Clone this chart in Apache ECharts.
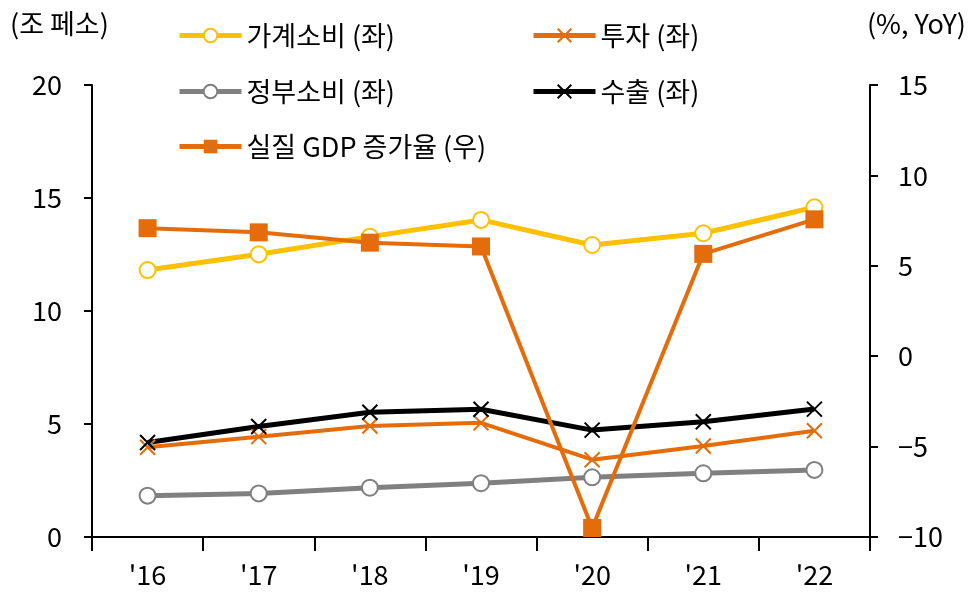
<!DOCTYPE html>
<html><head><meta charset="utf-8">
<script src="https://cdn.jsdelivr.net/npm/echarts@6/dist/echarts.min.js"></script>
<style>html,body{margin:0;padding:0;background:#fff}#c{width:973px;height:606px}</style>
</head><body><div id="c"></div>
<script>
const categories = ["'16","'17","'18","'19","'20","'21","'22"];
const household = [11.81, 12.51, 13.29, 14.03, 12.92, 13.44, 14.59];
const investment = [3.97, 4.44, 4.91, 5.05, 3.42, 4.03, 4.70];
const government = [1.83, 1.93, 2.18, 2.38, 2.64, 2.82, 2.97];
const exportsV = [4.18, 4.89, 5.52, 5.65, 4.73, 5.10, 5.66];
const gdp = [7.08, 6.85, 6.28, 6.07, -9.5, 5.66, 7.57];
const names = ['가계소비 (좌)','투자 (좌)','정부소비 (좌)','수출 (좌)','실질 GDP 증가율 (우)'];

const FONT = '"Noto Sans CJK KR", "Noto Sans", sans-serif';
const YEL = '#FFC000', ORG = '#E46C0A', GRY = '#808080', BLK = '#000000';
const X = 'path://M0,0L10,10M10,0L0,10';
const txt = {fontFamily: FONT, fontSize: 27, color: '#000'};

function leg(name, left, top, color, w){
  return {data:[name], left:left, top:top, padding:0, itemWidth:62, itemHeight:17, itemGap:0,
          lineStyle:{color:color, width:w},
          textStyle:{fontFamily:FONT, fontSize:27, color:'#000', padding:[0,0,0,0]}, selectedMode:false};
}

const chart = echarts.init(document.getElementById('c'));
chart.setOption({
  animation:false,
  backgroundColor:'#fff',
  grid:{left:92, right:103, top:85, bottom:69},
  legend:[
    leg(names[0],177,22,YEL,5), leg(names[1],531,22,ORG,5),
    leg(names[2],177,78,GRY,5), leg(names[3],531,78,BLK,5),
    leg(names[4],177,133,ORG,5)
  ],
  graphic:[
    {type:'text', left:10, top:10, style:{text:'(조 페소)', font:'27px '+FONT, fill:'#000'}},
    {type:'text', right:7, top:10, style:{text:'(%, YoY)', font:'27px '+FONT, fill:'#000'}}
  ],
  xAxis:{type:'category', data:categories, boundaryGap:true,
    axisLine:{lineStyle:{color:'#000', width:2}},
    axisTick:{show:true, interval:0, length:14, lineStyle:{color:'#000', width:2}},
    axisLabel:Object.assign({margin:24}, txt)},
  yAxis:[
    {type:'value', min:0, max:20, interval:5, position:'left',
     axisLine:{show:true, lineStyle:{color:'#000', width:2}},
     axisTick:{show:true, length:8, lineStyle:{color:'#000', width:2}},
     splitLine:{show:false}, axisLabel:Object.assign({margin:30}, txt)},
    {type:'value', min:-10, max:15, interval:5, position:'right',
     axisLine:{show:true, lineStyle:{color:'#000', width:2}},
     axisTick:{show:true, length:8, lineStyle:{color:'#000', width:2}},
     splitLine:{show:false},
     axisLabel:Object.assign({margin:28, formatter:function(v){return String(v).replace('-', '\u2212');}}, txt)}
  ],
  series:[
    {name:names[0], type:'line', data:household, yAxisIndex:0, symbol:'circle', symbolSize:16,
     lineStyle:{color:YEL, width:5}, itemStyle:{color:'#fff', borderColor:YEL, borderWidth:2}},
    {name:names[1], type:'line', data:investment, yAxisIndex:0, symbol:X, symbolSize:15,
     lineStyle:{color:ORG, width:4}, itemStyle:{color:'rgba(0,0,0,0)', borderColor:ORG, borderWidth:2}},
    {name:names[2], type:'line', data:government, yAxisIndex:0, symbol:'circle', symbolSize:16,
     lineStyle:{color:GRY, width:5}, itemStyle:{color:'#fff', borderColor:GRY, borderWidth:2}},
    {name:names[3], type:'line', data:exportsV, yAxisIndex:0, symbol:X, symbolSize:15,
     lineStyle:{color:BLK, width:5}, itemStyle:{color:'rgba(0,0,0,0)', borderColor:BLK, borderWidth:2}},
    {name:names[4], type:'line', data:gdp, yAxisIndex:1, symbol:'rect', symbolSize:18,
     lineStyle:{color:ORG, width:4}, itemStyle:{color:ORG, borderColor:ORG, borderWidth:0}}
  ]
});
</script></body></html>
